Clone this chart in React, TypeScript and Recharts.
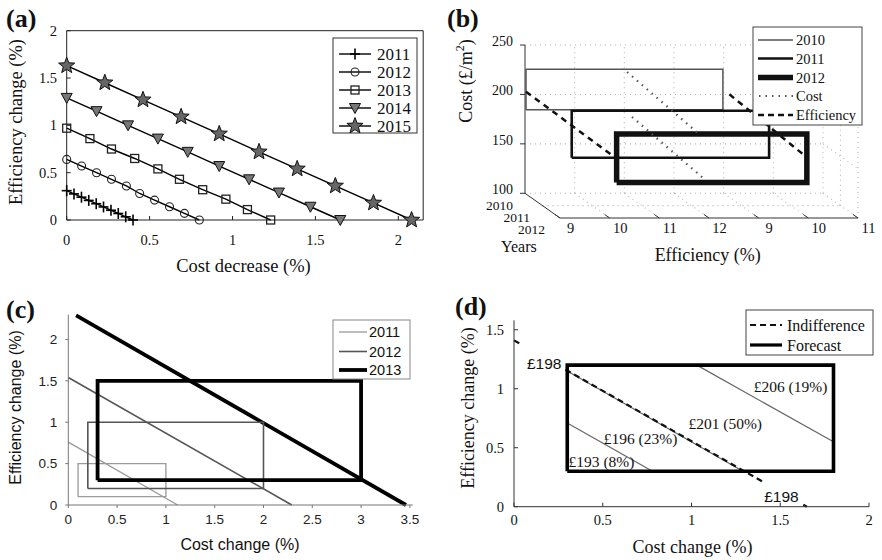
import React from 'react';
import { ComposedChart, Line, XAxis, YAxis, ReferenceLine, ReferenceDot } from 'recharts';

const SERIF = '"Liberation Serif", "Times New Roman", Times, serif';
const SANS = '"Liberation Sans", Arial, Helvetica, sans-serif';

type Pt = { x: number; y: number };
const zip = (xs: number[], ys: number[]): Pt[] => xs.map((x, i) => ({ x, y: ys[i] }));
const rectPath = (x0: number, x1: number, y0: number, y1: number): Pt[] => [
  { x: x0, y: y0 }, { x: x1, y: y0 }, { x: x1, y: y1 }, { x: x0, y: y1 }, { x: x0, y: y0 },
];

// ================= (a) =================
const A_YEARS = ['2011', '2012', '2013', '2014', '2015'];
const A_COST_2011 = [0, 0.044, 0.089, 0.133, 0.178, 0.222, 0.267, 0.311, 0.356, 0.4];
const A_EFF_2011 = [0.31, 0.276, 0.241, 0.207, 0.172, 0.138, 0.103, 0.069, 0.034, 0];
const A_COST_2012 = [0, 0.09, 0.18, 0.27, 0.36, 0.44, 0.53, 0.62, 0.71, 0.8];
const A_EFF_2012 = [0.64, 0.57, 0.5, 0.43, 0.36, 0.28, 0.21, 0.14, 0.07, 0];
const A_COST_2013 = [0, 0.14, 0.27, 0.41, 0.55, 0.68, 0.82, 0.96, 1.09, 1.23];
const A_EFF_2013 = [0.97, 0.86, 0.75, 0.65, 0.54, 0.43, 0.32, 0.22, 0.11, 0];
const A_COST_2014 = [0, 0.18, 0.37, 0.55, 0.73, 0.92, 1.1, 1.28, 1.47, 1.65];
const A_EFF_2014 = [1.29, 1.15, 1.0, 0.86, 0.72, 0.57, 0.43, 0.29, 0.14, 0];
const A_COST_2015 = [0, 0.23, 0.46, 0.69, 0.92, 1.16, 1.39, 1.62, 1.85, 2.08];
const A_EFF_2015 = [1.63, 1.45, 1.27, 1.09, 0.91, 0.72, 0.54, 0.36, 0.18, 0];
const A_X_TICKS = [0, 0.5, 1, 1.5, 2];
const A_Y_TICKS = [0, 0.5, 1, 1.5, 2];
const A_MARKERS = ['cross', 'circle', 'square', 'tri', 'star'];

// ================= (b) =================
const B_COST_TICKS = [100, 150, 200, 250];
const B_EFF_POS = [0, 1, 2, 3, 4, 5, 6];
const B_EFF_LABELS = ['9', '10', '11', '12', '9', '10', '11'];
const B_YEAR_LABELS = ['2010', '2011', '2012'];
const B_LEGEND = ['2010', '2011', '2012', 'Cost', 'Efficiency'];
const B_RECT_EFF_MIN = [-0.685, 0.236, 1.14];
const B_RECT_EFF_MAX = [3.28, 4.21, 4.97];
const B_RECT_COST_MIN = [184.5, 136, 111];
const B_RECT_COST_MAX = [225.5, 183.5, 160];
const B_EFF1_X = [-0.685, 1.04];
const B_EFF1_Y = [202.8, 138.7];
const B_EFF2_X = [3.41, 4.93];
const B_EFF2_Y = [200.1, 138.0];
const B_COST1_X = [1.35, 2.82];
const B_COST1_Y = [222.7, 159];
const B_COST2_X = [1.45, 2.88];
const B_COST2_Y = [177.2, 115.5];
const B_BACK_DX = -0.705;
const B_BACK_DC = 25;

// ================= (c) =================
const C_YEARS = ['2011', '2012', '2013'];
const C_DIAG_X = [[0, 1.12], [0, 2.29], [0.08, 3.46]];
const C_DIAG_Y = [[0.76, 0], [1.54, 0], [2.29, 0]];
const C_RECT_X_MIN = [0.1, 0.2, 0.3];
const C_RECT_X_MAX = [1.0, 2.0, 3.0];
const C_RECT_Y_MIN = [0.1, 0.2, 0.3];
const C_RECT_Y_MAX = [0.5, 1.0, 1.5];
const C_X_TICKS = [0, 0.5, 1, 1.5, 2, 2.5, 3, 3.5];
const C_Y_TICKS = [0, 0.5, 1, 1.5, 2];

// ================= (d) =================
const D_FORECAST_X = [0.3, 1.8];
const D_FORECAST_Y = [0.3, 1.2];
const D_ISO_X = [[0.3, 0.78], [0.3, 1.29], [1.03, 1.8]];
const D_ISO_Y = [[0.71, 0.3], [1.15, 0.3], [1.2, 0.55]];
const D_IND_X = [[0, 0.04], [0.29, 1.4], [1.63, 1.65]];
const D_IND_Y = [[1.41, 1.376], [1.162, 0.213], [0.016, 0]];
const D_LABELS = ['£198', '£206 (19%)', '£201 (50%)', '£196 (23%)', '£193 (8%)', '£198'];
const D_LABEL_X = [0.073, 1.558, 1.19, 0.713, 0.493, 1.507];
const D_LABEL_Y = [1.218, 1.021, 0.709, 0.582, 0.387, 0.09];
const D_X_TICKS = [0, 0.5, 1, 1.5, 2];
const D_Y_TICKS = [0, 0.5, 1, 1.5];

// ---------- markers ----------
function starPts(cx: number, cy: number, R: number, r: number) {
  const pts: string[] = [];
  for (let i = 0; i < 10; i++) {
    const ang = -Math.PI / 2 + (i * Math.PI) / 5;
    const rad = i % 2 === 0 ? R : r;
    pts.push(`${cx + rad * Math.cos(ang)},${cy + rad * Math.sin(ang)}`);
  }
  return pts.join(' ');
}

function Marker({ kind, cx, cy }: { kind: string; cx: number; cy: number }) {
  if (cx == null || cy == null || isNaN(cx) || isNaN(cy)) return null;
  switch (kind) {
    case 'cross':
      return (
        <g>
          <line x1={cx - 5} y1={cy} x2={cx + 5} y2={cy} stroke="#000" strokeWidth={1.6} />
          <line x1={cx} y1={cy - 5.5} x2={cx} y2={cy + 5.5} stroke="#000" strokeWidth={1.6} />
        </g>
      );
    case 'circle':
      return <circle cx={cx} cy={cy} r={4} fill="none" stroke="#222" strokeWidth={1.1} />;
    case 'square':
      return <rect x={cx - 4} y={cy - 4} width={8} height={8} fill="none" stroke="#222" strokeWidth={1.3} />;
    case 'tri':
      return (
        <polygon points={`${cx - 5.5},${cy - 4.5} ${cx + 5.5},${cy - 4.5} ${cx},${cy + 5.5}`} fill="#777" stroke="#111" strokeWidth={1} />
      );
    default:
      return <polygon points={starPts(cx, cy, 8.5, 3.6)} fill="#666" stroke="#111" strokeWidth={1} />;
  }
}

const dotFor = (kind: string) => (p: any) => (
  <Marker key={`m-${kind}-${p.index}`} kind={kind} cx={p.cx} cy={p.cy} />
);

// ---------- Panel (a) ----------
function PanelA() {
  const series = [
    zip(A_COST_2011, A_EFF_2011),
    zip(A_COST_2012, A_EFF_2012),
    zip(A_COST_2013, A_EFF_2013),
    zip(A_COST_2014, A_EFF_2014),
    zip(A_COST_2015, A_EFF_2015),
  ];
  const st = '#222';
  const tickStyle = { fontFamily: SERIF, fontSize: 14.5, fill: '#111' };
  return (
    <ComposedChart width={441} height={280} margin={{ top: 29.7, right: 16.8, bottom: 0, left: 0 }}>
      <XAxis type="number" dataKey="x" domain={[0, 2.15]} ticks={A_X_TICKS} interval={0} height={60} tickSize={-4} tickMargin={19} stroke={st} tick={tickStyle} />
      <XAxis xAxisId="top" orientation="top" type="number" dataKey="x" domain={[0, 2.15]} ticks={A_X_TICKS} interval={0} height={1} tickSize={-4} stroke={st} tick={false} />
      <YAxis type="number" domain={[0, 2]} ticks={A_Y_TICKS} interval={0} width={66.7} tickSize={-4} tickMargin={13.7} stroke={st} tick={tickStyle} />
      <YAxis yAxisId="right" orientation="right" type="number" domain={[0, 2]} ticks={A_Y_TICKS} interval={0} width={1} tickSize={-4} stroke={st} tick={false} />
      {series.map((data, i) => (
        <Line key={A_YEARS[i]} name={A_YEARS[i]} data={data} dataKey="y" type="linear" stroke="#000" strokeWidth={1.4} dot={dotFor(A_MARKERS[i])} isAnimationActive={false} />
      ))}
    </ComposedChart>
  );
}

// ---------- Panel (b) ----------
const BEffTick = (p: any) => {
  const { x, y, payload } = p;
  return (
    <g>
      <line x1={x} y1={y} x2={x - 5} y2={y - 3.5} stroke="#333" strokeWidth={1} />
      <text x={x + 10.5} y={y + 15} textAnchor="middle" fontFamily={SERIF} fontSize={14.5} fill="#111">
        {B_EFF_LABELS[payload.value]}
      </text>
    </g>
  );
};
const BCostTick = (p: any) => (
  <text x={p.x} y={p.y - 3.5} textAnchor="end" dominantBaseline="central" fontFamily={SERIF} fontSize={14} fill="#111">
    {p.payload.value}
  </text>
);

function PanelB() {
  const grid: [Pt, Pt][] = [];
  const last = B_EFF_POS[B_EFF_POS.length - 1];
  const c0 = B_COST_TICKS[0];
  const cTop = B_COST_TICKS[B_COST_TICKS.length - 1];
  const floorFront = c0 - B_BACK_DC;
  B_EFF_POS.forEach((k) => {
    if (k > 0) grid.push([{ x: k + B_BACK_DX, y: c0 }, { x: k + B_BACK_DX, y: cTop }]);
    if (k > 0) grid.push([{ x: k + B_BACK_DX, y: c0 }, { x: k, y: floorFront }]);
  });
  B_COST_TICKS.forEach((c) => {
    grid.push([{ x: B_BACK_DX, y: c }, { x: last + B_BACK_DX, y: c }]);
    if (c > c0) grid.push([{ x: last + B_BACK_DX, y: c }, { x: last, y: c - B_BACK_DC }]);
  });
  grid.push([{ x: B_BACK_DX / 2, y: c0 - B_BACK_DC / 2 }, { x: last + B_BACK_DX / 2, y: c0 - B_BACK_DC / 2 }]);
  grid.push([{ x: last, y: floorFront }, { x: last, y: cTop - B_BACK_DC }]);
  grid.push([{ x: last + B_BACK_DX / 2, y: c0 - B_BACK_DC / 2 }, { x: last + B_BACK_DX / 2, y: cTop - B_BACK_DC / 2 }]);

  const rectStyle = [
    { stroke: '#555', w: 1.5 },
    { stroke: '#111', w: 2.6 },
    { stroke: '#111', w: 5.5 },
  ];
  return (
    <ComposedChart width={441} height={280} margin={{ top: 45, right: 24, bottom: 22, left: 44 }}>
      <XAxis type="number" dataKey="x" domain={[B_BACK_DX, last]} ticks={B_EFF_POS} interval={0} height={40} axisLine={false} tickLine={false} tickSize={0} tickMargin={0} tick={BEffTick} />
      <YAxis type="number" domain={[floorFront, cTop]} ticks={B_COST_TICKS} interval={0} width={40} axisLine={false} tickSize={5} tickMargin={7} stroke="#333" tick={BCostTick} />
      {grid.map((s, i) => (
        <ReferenceLine key={`g${i}`} segment={s} stroke="#b5b5b5" strokeWidth={1.1} strokeDasharray="1 4" ifOverflow="visible" />
      ))}
      <ReferenceLine segment={[{ x: B_BACK_DX, y: c0 }, { x: B_BACK_DX, y: cTop }]} stroke="#333" strokeWidth={1} ifOverflow="visible" />
      <ReferenceLine segment={[{ x: B_BACK_DX, y: c0 }, { x: 0, y: floorFront }]} stroke="#333" strokeWidth={1} ifOverflow="visible" />
      <ReferenceLine segment={[{ x: 0, y: floorFront }, { x: last, y: floorFront }]} stroke="#333" strokeWidth={1} ifOverflow="visible" />
      {B_YEAR_LABELS.map((yr, i) => (
        <Line key={`r${yr}`} data={rectPath(B_RECT_EFF_MIN[i], B_RECT_EFF_MAX[i], B_RECT_COST_MIN[i], B_RECT_COST_MAX[i])} dataKey="y" stroke={rectStyle[i].stroke} strokeWidth={rectStyle[i].w} strokeLinejoin="miter" dot={false} isAnimationActive={false} />
      ))}
      <Line data={zip(B_COST1_X, B_COST1_Y)} dataKey="y" stroke="#555" strokeWidth={2.2} strokeDasharray="1.5 5" dot={false} isAnimationActive={false} />
      <Line data={zip(B_COST2_X, B_COST2_Y)} dataKey="y" stroke="#555" strokeWidth={2.2} strokeDasharray="1.5 5" dot={false} isAnimationActive={false} />
      <Line data={zip(B_EFF1_X, B_EFF1_Y)} dataKey="y" stroke="#111" strokeWidth={2.5} strokeDasharray="6 5" dot={false} isAnimationActive={false} />
      <Line data={zip(B_EFF2_X, B_EFF2_Y)} dataKey="y" stroke="#111" strokeWidth={2.5} strokeDasharray="6 5" dot={false} isAnimationActive={false} />
    </ComposedChart>
  );
}

// ---------- Panel (c) ----------
const C_STYLE = [
  { stroke: '#9a9a9a', w: 1.3 },
  { stroke: '#555', w: 1.6 },
  { stroke: '#000', w: 3.8 },
];
function PanelC() {
  const tickStyle = { fontFamily: SANS, fontSize: 13.5, fill: '#222' };
  return (
    <ComposedChart width={441} height={280} margin={{ top: 34.6, right: 28.2, bottom: 0, left: 0 }}>
      <XAxis type="number" dataKey="x" domain={[0, 3.53]} ticks={C_X_TICKS} interval={0} height={55} tickSize={3} tickMargin={6.6} stroke="#777" tick={tickStyle} />
      <YAxis type="number" domain={[0, 2.3]} ticks={C_Y_TICKS} interval={0} width={68.3} tickSize={3} tickMargin={8} stroke="#777" tick={tickStyle} />
      {C_YEARS.map((yr, i) => (
        <Line key={`d${yr}`} data={zip(C_DIAG_X[i], C_DIAG_Y[i])} dataKey="y" stroke={C_STYLE[i].stroke} strokeWidth={C_STYLE[i].w} dot={false} isAnimationActive={false} />
      ))}
      {C_YEARS.map((yr, i) => (
        <Line key={`r${yr}`} data={rectPath(C_RECT_X_MIN[i], C_RECT_X_MAX[i], C_RECT_Y_MIN[i], C_RECT_Y_MAX[i])} dataKey="y" stroke={C_STYLE[i].stroke} strokeWidth={C_STYLE[i].w} strokeLinejoin="miter" dot={false} isAnimationActive={false} />
      ))}
    </ComposedChart>
  );
}

// ---------- Panel (d) ----------
function PanelD() {
  const tickStyle = { fontFamily: SERIF, fontSize: 14.5, fill: '#111' };
  return (
    <ComposedChart width={441} height={280} margin={{ top: 40.3, right: 13, bottom: 0, left: 0 }}>
      <XAxis type="number" dataKey="x" domain={[0, 2]} ticks={D_X_TICKS} interval={0} height={53.3} tickSize={-4} tickMargin={12} stroke="#333" tick={tickStyle} />
      <YAxis type="number" domain={[0, 1.58]} ticks={D_Y_TICKS} interval={0} width={73} tickSize={-4} tickMargin={14} stroke="#333" tick={tickStyle} />
      {D_ISO_X.map((xs, i) => (
        <Line key={`iso${i}`} data={zip(xs, D_ISO_Y[i])} dataKey="y" stroke="#666" strokeWidth={1.2} dot={false} isAnimationActive={false} />
      ))}
      {D_IND_X.map((xs, i) => (
        <Line key={`ind${i}`} data={zip(xs, D_IND_Y[i])} dataKey="y" stroke="#111" strokeWidth={2.2} strokeDasharray="6 4" dot={false} isAnimationActive={false} />
      ))}
      <Line data={rectPath(D_FORECAST_X[0], D_FORECAST_X[1], D_FORECAST_Y[0], D_FORECAST_Y[1])} dataKey="y" stroke="#000" strokeWidth={3.6} strokeLinejoin="miter" dot={false} isAnimationActive={false} />
      {D_LABELS.map((txt, i) => {
        const sans = i === 0 || i === D_LABELS.length - 1;
        const anchor = i === 0 ? 'start' : 'middle';
        return (
          <ReferenceDot
            key={`lab${i}`}
            x={D_LABEL_X[i]}
            y={D_LABEL_Y[i]}
            r={0}
            fill="none"
            stroke="none"
            ifOverflow="visible"
            label={{
              content: (p: any) => (
                <text x={p.viewBox.x} y={p.viewBox.y} textAnchor={anchor} dominantBaseline="central" fontFamily={sans ? SANS : SERIF} fontSize={15.5} fill="#111">
                  {txt}
                </text>
              ),
            }}
          />
        );
      })}
    </ComposedChart>
  );
}

// ---------- Overlay: panel letters, titles, legends ----------
function Overlay() {
  const letter = { fontFamily: SERIF, fontWeight: 700, fontSize: 26, fill: '#111' } as const;
  const aLegY = [54, 72, 90, 108, 126];
  const bLegY = [40, 58.5, 77.5, 96, 115];
  const cLegY = [332, 351.5, 370];
  return (
    <svg width={882} height={560} style={{ position: 'absolute', left: 0, top: 0, pointerEvents: 'none' }}>
      <text x={6} y={26.5} {...letter}>(a)</text>
      <text x={447} y={26.5} {...letter}>(b)</text>
      <text x={6} y={318} {...letter}>(c)</text>
      <text x={455} y={315} {...letter}>(d)</text>

      {/* (a) titles */}
      <text x={243.5} y={271.5} textAnchor="middle" fontFamily={SERIF} fontSize={18.5} fill="#111">Cost decrease (%)</text>
      <text transform="translate(15.5,122) rotate(-90)" textAnchor="middle" dominantBaseline="central" fontFamily={SERIF} fontSize={18.5} fill="#111">Efficiency change (%)</text>
      {/* (a) legend */}
      <rect x={333} y={38} width={84} height={95} fill="#fff" stroke="#333" strokeWidth={1} />
      {A_YEARS.map((yr, i) => (
        <g key={`al${yr}`}>
          <line x1={339} y1={aLegY[i]} x2={371} y2={aLegY[i]} stroke="#000" strokeWidth={1.4} />
          <Marker kind={A_MARKERS[i]} cx={355} cy={aLegY[i]} />
          <text x={377} y={aLegY[i] + 5.5} fontFamily={SERIF} fontSize={17} fill="#111">{yr}</text>
        </g>
      ))}

      {/* (b) titles */}
      <text x={707.7} y={260.5} textAnchor="middle" fontFamily={SERIF} fontSize={18} fill="#111">Efficiency (%)</text>
      <text x={501} y={252} fontFamily={SERIF} fontSize={16} fill="#111">Years</text>
      <text transform="translate(466,81) rotate(-90)" textAnchor="middle" dominantBaseline="central" fontFamily={SERIF} fontSize={18} fill="#111">
        Cost (£/m<tspan dy={-6} fontSize={12}>2</tspan><tspan dy={6}>)</tspan>
      </text>
      <text x={513} y={210} textAnchor="end" fontFamily={SERIF} fontSize={13.5} fill="#111">{B_YEAR_LABELS[0]}</text>
      <text x={530} y={221.5} textAnchor="end" fontFamily={SERIF} fontSize={13.5} fill="#111">{B_YEAR_LABELS[1]}</text>
      <text x={545} y={233.5} textAnchor="end" fontFamily={SERIF} fontSize={13.5} fill="#111">{B_YEAR_LABELS[2]}</text>
      {/* (b) legend */}
      <rect x={753} y={27} width={109} height={98} fill="#fff" stroke="#444" strokeWidth={1} />
      <line x1={758} y1={bLegY[0]} x2={793} y2={bLegY[0]} stroke="#555" strokeWidth={1.5} />
      <line x1={758} y1={bLegY[1]} x2={793} y2={bLegY[1]} stroke="#111" strokeWidth={2.6} />
      <line x1={758} y1={bLegY[2]} x2={793} y2={bLegY[2]} stroke="#111" strokeWidth={5.5} />
      <line x1={759} y1={bLegY[3]} x2={793} y2={bLegY[3]} stroke="#555" strokeWidth={2.2} strokeDasharray="1.5 5" />
      <line x1={758} y1={bLegY[4]} x2={793} y2={bLegY[4]} stroke="#111" strokeWidth={2.5} strokeDasharray="6 4" />
      {B_LEGEND.map((t, i) => (
        <text key={`bl${t}`} x={796} y={bLegY[i] + 5} fontFamily={SERIF} fontSize={14.5} fill="#111">{t}</text>
      ))}

      {/* (c) titles */}
      <text x={240} y={549.5} textAnchor="middle" fontFamily={SANS} fontSize={16} fill="#111">Cost change (%)</text>
      <text transform="translate(15,407.5) rotate(-90)" textAnchor="middle" dominantBaseline="central" fontFamily={SANS} fontSize={16} fill="#111">Efficiency change (%)</text>
      {/* (c) legend */}
      <rect x={333} y={320} width={77} height={59} fill="#fff" stroke="#888" strokeWidth={1} />
      {C_YEARS.map((yr, i) => (
        <g key={`cl${yr}`}>
          <line x1={339} y1={cLegY[i]} x2={367} y2={cLegY[i]} stroke={C_STYLE[i].stroke} strokeWidth={C_STYLE[i].w} />
          <text x={369} y={cLegY[i] + 5} fontFamily={SANS} fontSize={14.5} fill="#111">{yr}</text>
        </g>
      ))}

      {/* (d) titles */}
      <text x={692.5} y={552.5} textAnchor="middle" fontFamily={SERIF} fontSize={18} fill="#111">Cost change (%)</text>
      <text transform="translate(467.5,408) rotate(-90)" textAnchor="middle" dominantBaseline="central" fontFamily={SERIF} fontSize={18} fill="#111">Efficiency change (%)</text>
      {/* (d) legend */}
      <rect x={746} y={310} width={127} height={45} fill="#fff" stroke="#444" strokeWidth={1} />
      <line x1={750} y1={325} x2={782} y2={325} stroke="#111" strokeWidth={2.2} strokeDasharray="6 4" />
      <line x1={750} y1={345} x2={782} y2={345} stroke="#000" strokeWidth={3.2} />
      <text x={787} y={330.5} fontFamily={SERIF} fontSize={16} fill="#111">Indifference</text>
      <text x={787} y={350.5} fontFamily={SERIF} fontSize={16} fill="#111">Forecast</text>
    </svg>
  );
}

export default function App() {
  return (
    <div style={{ position: 'absolute', left: 0, top: 0, width: 882, height: 560, background: '#fff', overflow: 'hidden' }}>
      <div style={{ position: 'absolute', left: 0, top: 0 }}><PanelA /></div>
      <div style={{ position: 'absolute', left: 441, top: 0 }}><PanelB /></div>
      <div style={{ position: 'absolute', left: 0, top: 280 }}><PanelC /></div>
      <div style={{ position: 'absolute', left: 441, top: 280 }}><PanelD /></div>
      <Overlay />
    </div>
  );
}
